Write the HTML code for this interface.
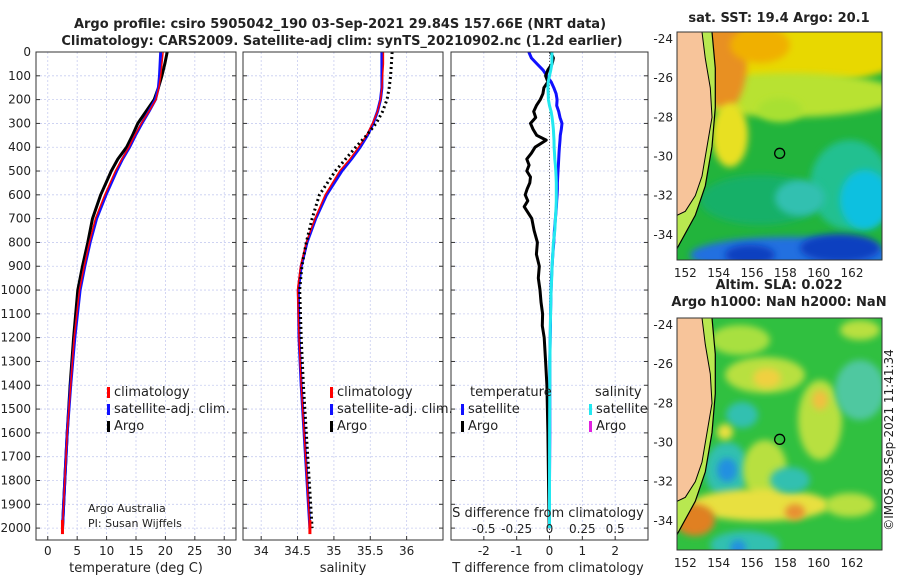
<!DOCTYPE html>
<html><head><meta charset="utf-8"><style>
body{margin:0;background:#fff;font-family:"Liberation Sans","DejaVu Sans",sans-serif}
svg text{font-family:"DejaVu Sans","Liberation Sans",sans-serif;fill:#222}
</style></head><body>
<svg id="c" width="900" height="580" xmlns="http://www.w3.org/2000/svg">
<text x="340" y="28" text-anchor="middle" font-size="13" font-weight="bold">Argo profile: csiro 5905042_190 03-Sep-2021 29.84S 157.66E (NRT data)</text>
<text x="342" y="45" text-anchor="middle" font-size="13" font-weight="bold">Climatology: CARS2009. Satellite-adj clim: synTS_20210902.nc (1.2d earlier)</text>
<g id="g"></g>
</svg>
<script>
const depths=[0,50,100,150,200,250,300,350,400,450,500,600,700,800,900,1000,1200,1400,1600,1800,2000];
const tempClim=[19.6,19.4,19.2,18.9,18.4,17.2,15.9,14.8,13.8,12.6,11.5,9.7,8.1,7.1,6.2,5.4,4.5,3.9,3.3,2.9,2.5];
const tempSat=[19.2,19.1,19.0,18.8,18.3,17.2,16.0,14.9,13.9,12.7,11.7,9.9,8.3,7.2,6.3,5.5,4.6,3.9,3.3,2.9,2.5];
const tempArgo=[20.3,19.9,19.4,18.8,18.1,16.7,15.3,14.4,13.4,11.9,10.8,9.0,7.6,6.8,5.9,5.1,4.4,3.8,3.3,2.9,2.5];
const salClim=[35.68,35.68,35.67,35.66,35.64,35.6,35.53,35.45,35.34,35.22,35.08,34.88,34.74,34.62,34.54,34.5,34.52,34.55,34.59,34.63,34.67];
const salSat=[35.66,35.66,35.66,35.66,35.64,35.6,35.54,35.46,35.36,35.24,35.11,34.9,34.75,34.63,34.55,34.51,34.52,34.55,34.59,34.63,34.67];
const salArgo=[35.8,35.79,35.78,35.76,35.73,35.67,35.58,35.45,35.3,35.16,35.02,34.8,34.7,34.62,34.56,34.53,34.55,34.58,34.62,34.66,34.7];
const diffDepths=[0,25,50,75,100,125,150,175,200,225,250,275,300,325,350,370,400,425,450,475,500,525,550,575,600,625,650,700,750,800,850,900,950,1000,1050,1100,1150,1200,1300,1400,1600,1800,2000];
const tDiffArgo=[0.03,0.12,0.08,-0.05,-0.12,-0.05,-0.17,-0.2,-0.28,-0.4,-0.48,-0.42,-0.58,-0.5,-0.39,-0.1,-0.44,-0.55,-0.69,-0.62,-0.69,-0.58,-0.6,-0.68,-0.74,-0.66,-0.77,-0.54,-0.47,-0.37,-0.4,-0.31,-0.34,-0.29,-0.26,-0.21,-0.22,-0.16,-0.12,-0.08,-0.05,-0.03,-0.01];
const tDiffSat=[-0.63,-0.55,-0.38,-0.2,-0.08,0.05,0.13,0.2,0.23,0.22,0.28,0.32,0.38,0.36,0.33,0.32,0.3,0.29,0.28,0.27,0.26,0.25,0.24,0.24,0.23,0.22,0.21,0.18,0.15,0.13,0.1,0.08,0.06,0.05,0.04,0.03,0.03,0.02,0.01,0.01,0.01,0.0,0.0];
const sDiffSat=[0.018,0.018,0.018,0.01,0.0,-0.01,-0.012,-0.01,-0.008,0.0,0.012,0.02,0.025,0.03,0.032,0.034,0.035,0.038,0.04,0.045,0.048,0.05,0.052,0.052,0.052,0.052,0.05,0.045,0.04,0.03,0.025,0.02,0.017,0.012,0.01,0.008,0.006,0.005,0.003,0.002,0.001,0.0,0.0];
const depthTicks=[0,100,200,300,400,500,600,700,800,900,1000,1100,1200,1300,1400,1500,1600,1700,1800,1900,2000];
const tTicks=[0,5,10,15,20,25,30];
const sTicks=[34,34.5,35,35.5,36];
const dTicks=[-2,-1,0,1,2];
const sdTicks=["-0.5","-0.25","0","0.25","0.5"];
const latTicks=[-24,-26,-28,-30,-32,-34];
const lonTicks=[152,154,156,158,160,162];

const NS="http://www.w3.org/2000/svg";
const G=document.getElementById('g');
function el(t,a,p){const e=document.createElementNS(NS,t);for(const k in a)e.setAttribute(k,a[k]);(p||G).appendChild(e);return e;}
const plotTop=52,bot=540,dmax=2050;
const yOf=d=>plotTop+d/dmax*(bot-plotTop);
const panels=[{x0:36,x1:236,lo:-2,hi:32},{x0:243,x1:443,lo:33.75,hi:36.5},{x0:451,x1:648,lo:-3,hi:3}];
panels.forEach(p=>{p.x=v=>p.x0+(v-p.lo)/(p.hi-p.lo)*(p.x1-p.x0);});
function txt(x_,y_,s,size,name,anchor,extra){const t=el('text',Object.assign({x:x_,y:y_,'font-size':size,'text-anchor':anchor||'start'},extra||{}));t.textContent=s;
  
  return t;}
function grid(p,ticks,name){
  const r=el('rect',{x:p.x0,y:plotTop,width:p.x1-p.x0,height:bot-plotTop,fill:'#fff',stroke:'none'});
  
  
  depthTicks.forEach(d=>{el('line',{x1:p.x0,x2:p.x1,y1:yOf(d),y2:yOf(d),stroke:'#c8cdf0','stroke-dasharray':'2,2','stroke-width':0.8});
    el('line',{x1:p.x0,x2:p.x0+4,y1:yOf(d),y2:yOf(d),stroke:'#333'});el('line',{x1:p.x1,x2:p.x1-4,y1:yOf(d),y2:yOf(d),stroke:'#333'});});
  ticks.forEach(t=>{const X=p.x(t);el('line',{x1:X,x2:X,y1:plotTop,y2:bot,stroke:'#c8cdf0','stroke-dasharray':'2,2','stroke-width':0.8});
    el('line',{x1:X,x2:X,y1:bot,y2:bot-4,stroke:'#333'});
    txt(X,bot+15,t,12,name+'-x-tick-label','middle');});
}
function frame(p){el('rect',{x:p.x0,y:plotTop,width:p.x1-p.x0,height:bot-plotTop,fill:'none',stroke:'#333','stroke-width':1});}
function line(p,dd,vals,color,w,name,dash){
  const pts=dd.map((d,i)=>p.x(vals[i]).toFixed(1)+','+yOf(d).toFixed(1)).join(' ');
  const e=el('polyline',{points:pts,fill:'none',stroke:color,'stroke-width':w,'stroke-linejoin':'round'});
  if(dash)e.setAttribute('stroke-dasharray',dash);
  
  
}
grid(panels[0],tTicks,'temperature');
grid(panels[1],sTicks,'salinity');
grid(panels[2],dTicks,'difference');
depthTicks.forEach(d=>txt(31,yOf(d)+4,d,12,'depth-tick-label','end'));
line(panels[0],depths,tempArgo,'#000',3,'temp-argo-line');
line(panels[0],depths,tempSat,'#1010ff',3,'temp-satellite-line');
line(panels[0],depths,tempClim,'#ff0000',1.5,'temp-climatology-line');
line(panels[1],depths,salSat,'#1010ff',3,'sal-satellite-line');
line(panels[1],depths,salClim,'#ff0000',1.5,'sal-climatology-line');
line(panels[1],depths,salArgo,'#000',3,'sal-argo-line','2,3');
el('line',{x1:panels[2].x(0),x2:panels[2].x(0),y1:plotTop,y2:bot,stroke:'#666','stroke-dasharray':'1,2'});
line(panels[2],diffDepths,tDiffSat,'#1010ff',3,'tdiff-satellite-line');
line(panels[2],diffDepths,tDiffArgo,'#000',3,'tdiff-argo-line');
line(panels[2],diffDepths,sDiffSat.map(v=>v*4),'#22e8f0',3,'sdiff-satellite-line');
panels.forEach(frame);
el('rect',{x:panels[0].x(2.5)-1.5,y:yOf(2000)-8,width:3,height:14,fill:'red'});
el('rect',{x:panels[1].x(34.67)-1.5,y:yOf(2000)-8,width:3,height:14,fill:'red'});
function leg(x_,y_,c,s,name){el('rect',{x:x_,y:y_-9,width:3,height:11,fill:c});txt(x_+7,y_,s,13,name);}
[[107,'temp'],[330,'sal']].forEach(([lx,n])=>{leg(lx,396,'red','climatology',n+'-legend-climatology');leg(lx,413,'#1010ff','satellite-adj. clim.',n+'-legend-satellite');leg(lx,430,'#000','Argo',n+'-legend-argo');});
txt(470,396,'temperature',13,'tdiff-legend-title');txt(595,396,'salinity',13,'sdiff-legend-title');
leg(461,413,'#1010ff','satellite','tdiff-legend-satellite');leg(461,430,'#000','Argo','tdiff-legend-argo');
leg(589,413,'#22e8f0','satellite','sdiff-legend-satellite');leg(589,430,'#e020e0','Argo','sdiff-legend-argo');
txt(88,512,'Argo Australia',11,'credit-line-1');txt(88,527,'PI: Susan Wijffels',11,'credit-line-2');
txt(548,517,'S difference from climatology',13,'s-diff-axis-title','middle');
sdTicks.forEach(s=>txt(panels[2].x(+s*4),533,s,12,'s-diff-tick-label','middle'));
txt(136,572,'temperature (deg C)',13,'temperature-axis-title','middle');
txt(343,572,'salinity',13,'salinity-axis-title','middle');
txt(548,572,'T difference from climatology',13,'t-diff-axis-title','middle');

function blobs(list,m,blur){list.forEach(b=>el('ellipse',{cx:b[0],cy:b[1],rx:b[2],ry:b[3],fill:b[4],filter:'url(#'+blur+')'},m));}
function drawMap(yT,yB,title1,title2,kind){
  const x0=677,x1=882,lonL=151.5,lonR=163.8,latT=-23.65;
  const lat2y=la=>yT+(latT-la)*19.6; const lon2x=lo=>x0+(lo-lonL)*(x1-x0)/(lonR-lonL);
  const gg=el('g',{});
  
  
  const cid='clip'+kind;const cp=el('clipPath',{id:cid},gg);el('rect',{x:x0,y:yT,width:x1-x0,height:yB-yT},cp);
  const f=el('filter',{id:'blur'+kind,x:'-50%',y:'-50%',width:'200%',height:'200%'},gg);el('feGaussianBlur',{stdDeviation:3.5},f);
  const m=el('g',{'clip-path':'url(#'+cid+')'},gg);
  const B='blur'+kind;
  if(kind==='sst'){
    el('rect',{x:x0,y:yT,width:x1-x0,height:yB-yT,fill:'#22b43c'},m);
    blobs([[790,50,120,35,'#e8d800'],[790,95,110,22,'#b8e230'],[725,60,22,50,'#e89020'],[760,45,30,18,'#f0b000'],[730,135,18,32,'#e8e020'],[780,110,22,12,'#a8e030'],
      [850,185,40,45,'#20c090'],[865,200,25,30,'#10c0e0'],[760,200,60,25,'#18b068'],[800,198,25,18,'#30c0b0'],
      [790,255,100,18,'#2070e0'],[840,248,40,14,'#1040c0'],[750,255,25,10,'#1040c0']],m,B);
  } else {
    el('rect',{x:x0,y:yT,width:x1-x0,height:yB-yT,fill:'#30c040'},m);
    blobs([[765,375,40,18,'#b8e040'],[767,378,14,10,'#f0d040'],[742,415,16,13,'#30c0b0'],[727,470,22,28,'#30c0b0'],[727,470,10,12,'#2090e0'],
      [725,432,8,8,'#e8e040'],[765,470,22,30,'#b8e040'],[760,505,70,16,'#e8e040'],[695,520,20,16,'#e08020'],[795,512,10,8,'#e89030'],
      [790,480,20,13,'#30c0b0'],[820,420,22,40,'#b8e040'],[820,400,8,10,'#f0c040'],[745,545,35,14,'#30c0b0'],[738,548,8,8,'#2090e0'],
      [860,390,25,30,'#50c8a0'],[740,340,30,15,'#a8e040'],[860,330,20,10,'#b8e040'],[850,505,25,12,'#b8e040']],m,B);
  }
  const land=[[153.0,-23.65],[153.2,-25],[153.5,-26.5],[153.6,-28],[153.3,-29.5],[153.0,-31],[152.6,-32],[152.0,-32.8],[151.5,-33]];
  const outer=[[153.6,-23.65],[153.8,-25.5],[153.8,-27.5],[153.6,-29.5],[153.2,-31.5],[152.6,-33],[151.5,-34.7]];
  const pts=a=>a.map(p=>lon2x(p[0]).toFixed(1)+' '+lat2y(p[1]).toFixed(1)).join(' L');
  el('path',{d:`M${pts(outer)} L${x0} ${yT}Z`,fill:'#b8e850'},m);
  el('path',{d:`M${pts(outer)}`,fill:'none',stroke:'#000','stroke-width':1.2},m);
  el('path',{d:`M${pts(land)} L${x0} ${yT}Z`,fill:'#f7c49a',stroke:'#000','stroke-width':1},m);
  el('circle',{cx:lon2x(157.66),cy:lat2y(-29.84),r:5,fill:'none',stroke:'#000','stroke-width':1.3},m);
  el('rect',{x:x0,y:yT,width:x1-x0,height:yB-yT,fill:'none',stroke:'#333'},gg);
  latTicks.forEach(la=>txt(x0-4,lat2y(la)+4,la,12,kind+'-lat-tick','end'));
  lonTicks.forEach(lo=>txt(lon2x(lo),yB+17,lo,12,kind+'-lon-tick','middle'));
  if(title2){txt(779,yT-29,title1,13,kind+'-title-1','middle',{'font-weight':'bold'});txt(779,yT-12,title2,13,kind+'-title-2','middle',{'font-weight':'bold'});}
  else txt(779,yT-10,title1,13,kind+'-title-1','middle',{'font-weight':'bold'});
}
drawMap(32,260,'sat. SST: 19.4 Argo: 20.1',null,'sst');
drawMap(318,550,'Altim. SLA: 0.022','Argo h1000: NaN h2000: NaN','sla');
txt(0,0,'©IMOS 08-Sep-2021 11:41:34',12,'timestamp-credit','middle',{transform:'translate(893,440) rotate(-90)'});
</script>
</body></html>
